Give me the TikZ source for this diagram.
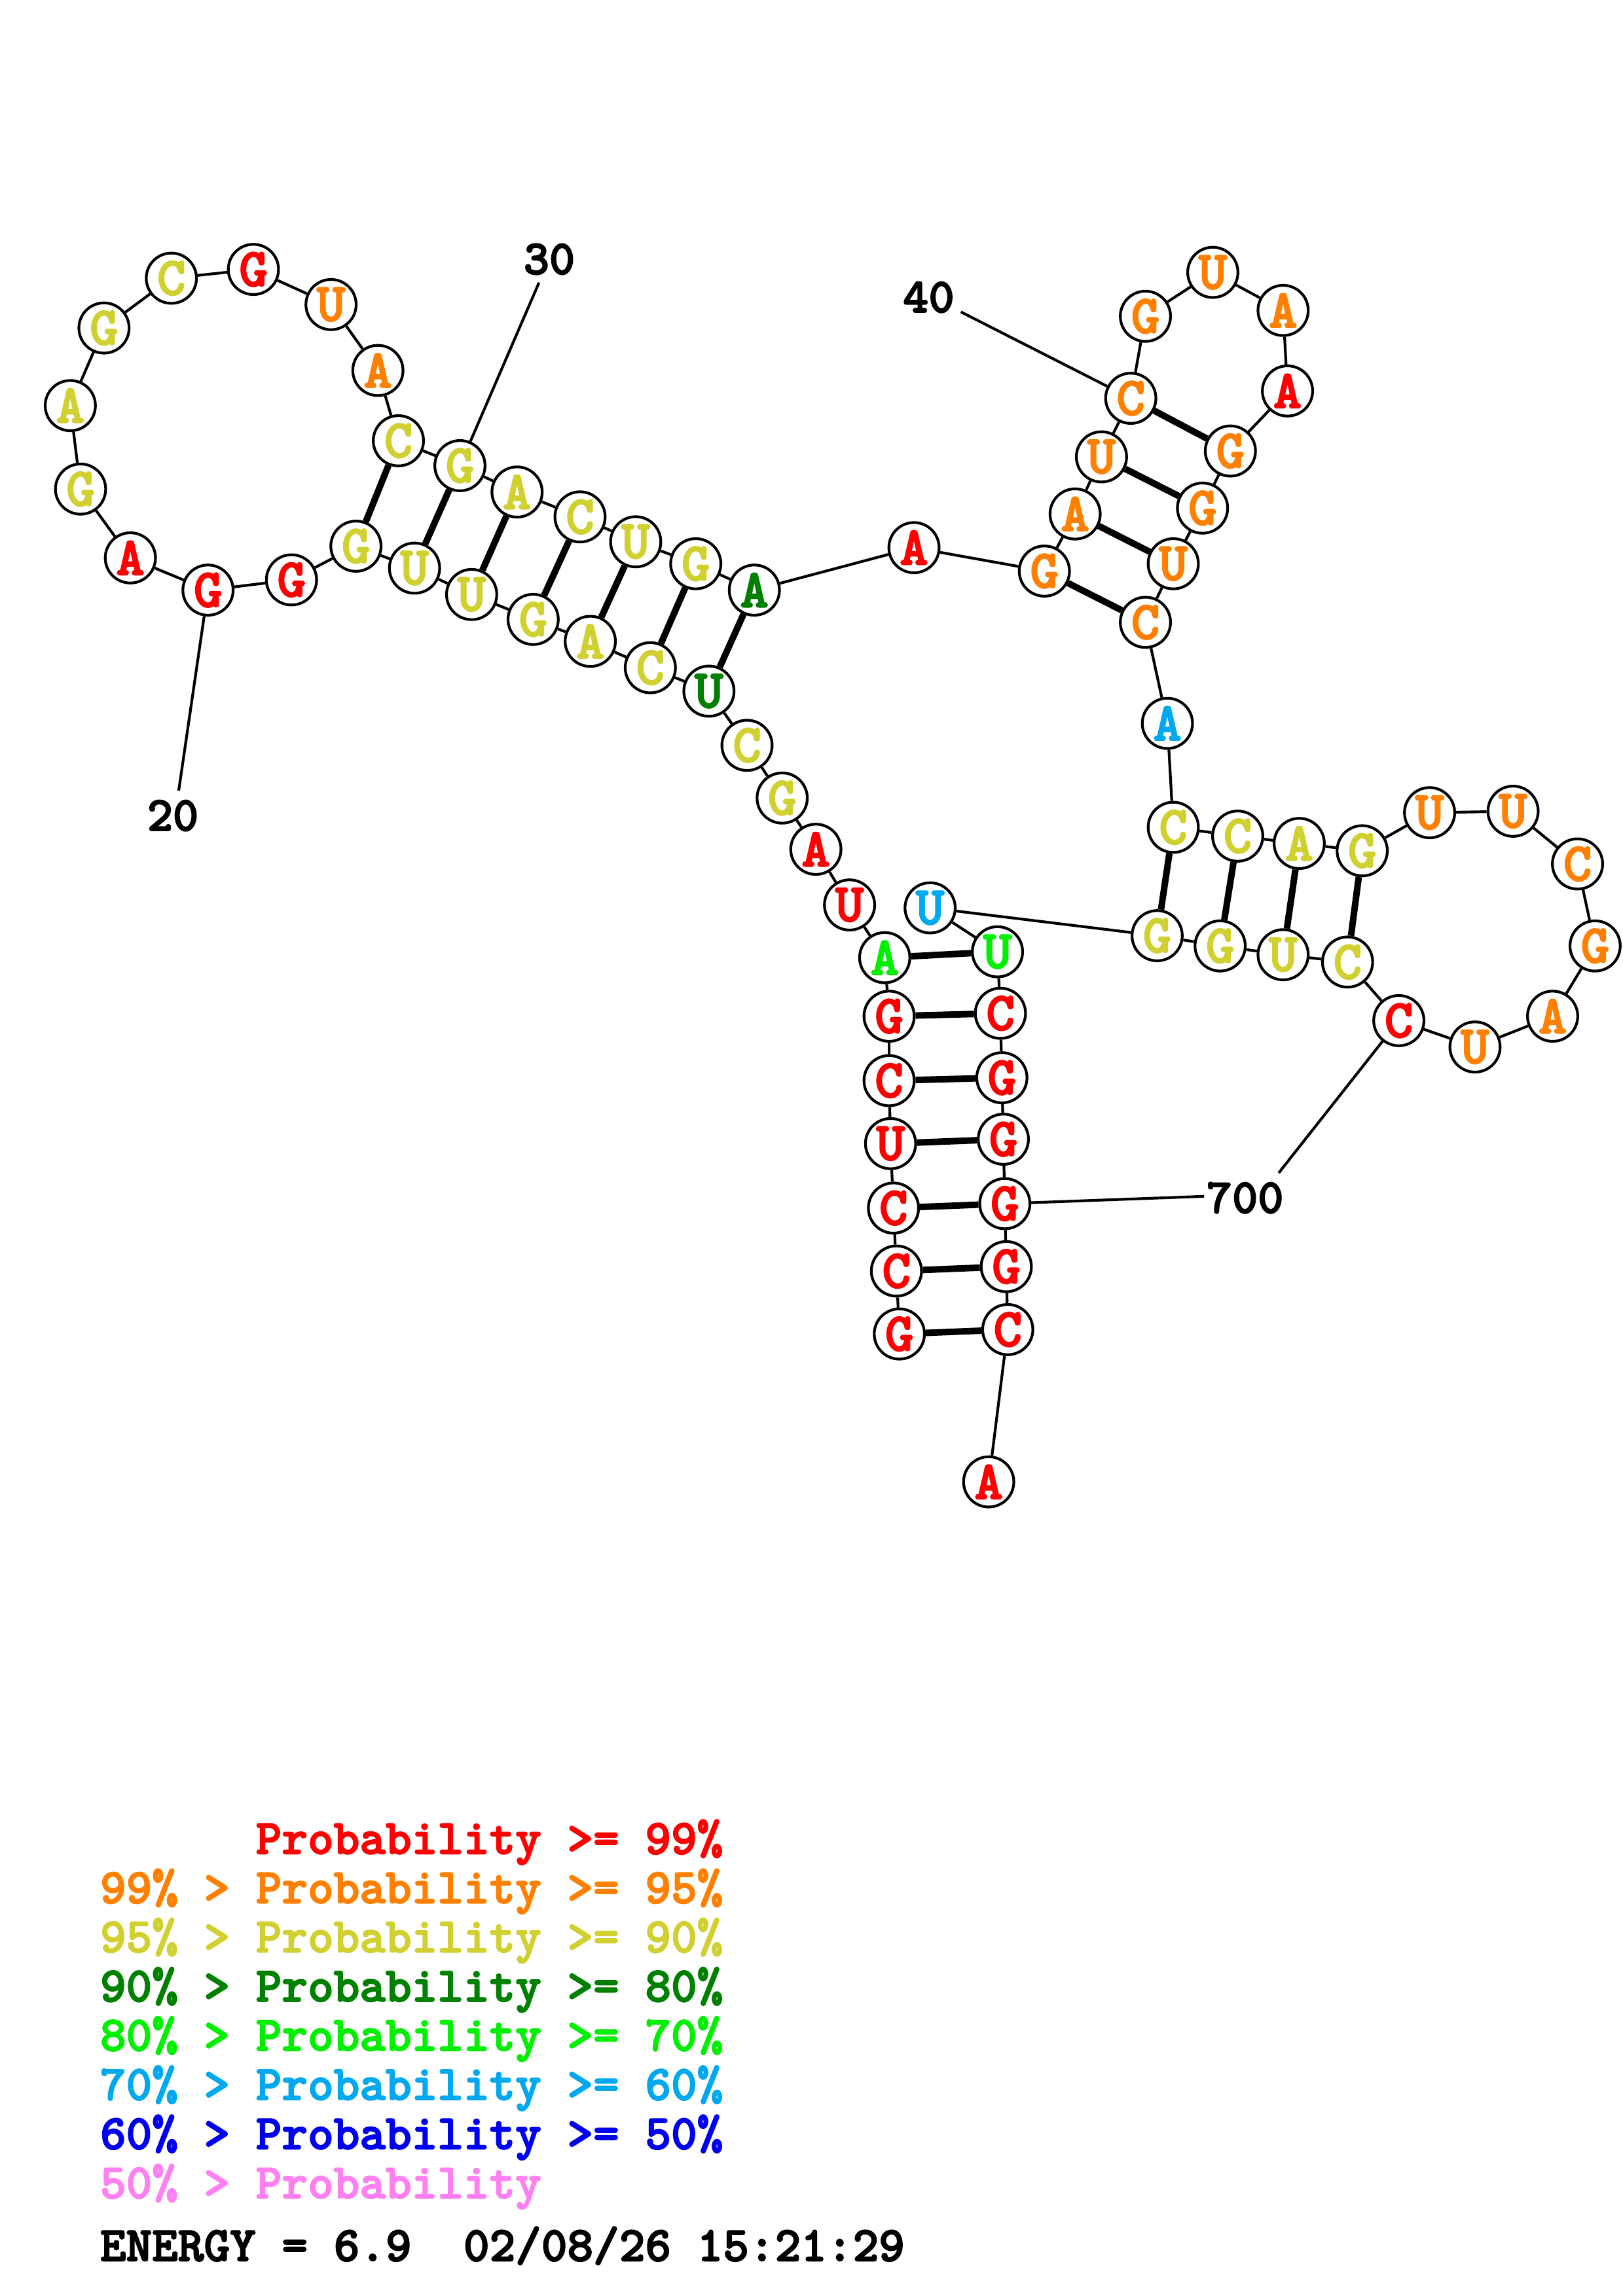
\documentclass[tikz,border=0pt]{standalone}
\usepackage{fontspec}
\usepackage{tikz}
\usetikzlibrary{positioning}

\newfontfamily\ntfont{lmmonolt10-bold}[Extension=.otf,
	BoldFont=lmmonolt10-bold, BoldFeatures={FakeBold=2.5}]

\definecolor{pred}{RGB}{255,0,0}
\definecolor{porange}{RGB}{255,128,0}
\definecolor{pyellow}{RGB}{208,208,48}
\definecolor{pdkgreen}{RGB}{0,128,0}
\definecolor{pgreen}{RGB}{0,240,0}
\definecolor{pcyan}{RGB}{0,168,240}
\definecolor{pblue}{RGB}{0,0,240}
\definecolor{ppink}{RGB}{255,128,240}

\tikzset{
	base/.style={circle,draw,line width=1pt,fill=white,minimum size=6.5mm,inner sep=0pt,
		font=\ntfont\bfseries\fontsize{20}{20}\selectfont},
	bb/.style={line width=1pt},
	pair/.style={line width=2.4pt},
	numlbl/.style={font=\ntfont\bfseries\fontsize{18}{18}\selectfont},
	legend/.style={anchor=base west,inner sep=0pt,font=\ntfont\bfseries\fontsize{18.2}{18.2}\selectfont}
}

\begin{document}
\begin{tikzpicture}[x=0.18953mm,y=-0.18953mm]
	\useasboundingbox (0,0) rectangle (1108,1568);
	% nucleotides
	\foreach \i/\x/\y/\b/\c in {
		1/614/911/G/pred, 2/612/868/C/pred, 3/610/825/C/pred, 4/608/781/U/pred,
		5/607/738/C/pred, 6/607/694/G/pred, 7/604/654/A/pgreen, 8/580/618/U/pred,
		9/557/580/A/pred, 10/534/545/G/pyellow, 11/510/509/C/pyellow, 12/484/472/U/pdkgreen,
		13/444/456/C/pyellow, 14/403/438/A/pyellow, 15/364/423/G/pyellow, 16/322/406/U/pyellow,
		17/283/388/U/pyellow, 18/243/373/G/pyellow, 19/199/396/G/pred, 20/142/403/G/pred,
		21/89/381/A/pred, 22/55/334/G/pyellow, 23/48/277/A/pyellow, 24/71/224/G/pyellow,
		25/117/190/C/pyellow, 26/173/184/G/pred, 27/226/208/U/porange, 28/258/253/A/porange,
		29/272/301/C/pyellow, 30/314/318/G/pyellow, 31/353/336/A/pyellow, 32/396/353/C/pyellow,
		33/434/370/U/pyellow, 34/475/385/G/pyellow, 35/515/403/A/pdkgreen, 36/624/374/A/pred,
		37/713/390/G/porange, 38/734/351/A/porange, 39/752/312/U/porange, 40/772/272/C/porange,
		41/782/216/G/porange, 42/828/186/U/porange, 43/876/212/A/porange, 44/879/267/A/pred,
		45/840/308/G/porange, 46/821/347/G/porange, 47/801/385/U/porange, 48/782/425/C/porange,
		49/797/494/A/pcyan, 50/801/565/C/pyellow, 51/845/571/C/pyellow, 52/887/576/A/pyellow,
		53/930/581/G/pyellow, 54/976/555/U/porange, 55/1033/554/U/porange, 56/1077/590/C/porange,
		57/1089/646/G/porange, 58/1060/694/A/porange, 59/1007/715/U/porange, 60/955/697/C/pred,
		61/920/657/C/pyellow, 62/876/652/U/pyellow, 63/833/646/G/pyellow, 64/790/639/G/pyellow,
		65/635/620/U/pcyan, 66/681/650/U/pgreen, 67/683/692/C/pred, 68/684/736/G/pred,
		69/685/778/G/pred, 70/686/822/G/pred, 71/687/865/G/pred, 72/688/908/C/pred,
		73/675/1012/A/pred}
		\node[base,text=\c] (n\i) at (\x,\y) {\b};
	% backbone
	\foreach \i [count=\j from 2] in {1,...,72}
		\draw[bb] (n\i) -- (n\j);
	% pairs
	\path[pair]
	(n1) edge (n72) (n2) edge (n71) (n3) edge (n70) (n4) edge (n69)
	(n5) edge (n68) (n6) edge (n67) (n7) edge (n66)
	(n12) edge (n35) (n13) edge (n34) (n14) edge (n33) (n15) edge (n32)
	(n16) edge (n31) (n17) edge (n30) (n18) edge (n29)
	(n37) edge (n48) (n38) edge (n47) (n39) edge (n46) (n40) edge (n45)
	(n50) edge (n64) (n51) edge (n63) (n52) edge (n62) (n53) edge (n61);
	% index labels
	\coordinate (l20) at (122,540);
	\coordinate (l30) at (368,193);
	\coordinate (l40) at (656,213);
	\coordinate (l60) at (873,801);
	\coordinate (l70) at (822,817);
	\draw[bb] (n20) -- (l20) (n30) -- (l30) (n40) -- (l40)
		(n60) -- (l60) (n70) -- (l70);
	\node[numlbl] (t20) at (118,557) {20};
	\node[numlbl] (t30) at (375,177) {30};
	\node[numlbl] (t40) at (634,203) {40};
	\node[numlbl] (t70) at (850,818) {700};
	% legend
	\node[legend,text=pred] (k1) at (68,1266) {\phantom{99\% > }Probability >= 99\%};
	\node[legend,text=porange] (k2) at (68,1299.6) {99\% > Probability >= 95\%};
	\node[legend,text=pyellow] (k3) at (68,1333.2) {95\% > Probability >= 90\%};
	\node[legend,text=pdkgreen] (k4) at (68,1366.8) {90\% > Probability >= 80\%};
	\node[legend,text=pgreen] (k5) at (68,1400.4) {80\% > Probability >= 70\%};
	\node[legend,text=pcyan] (k6) at (68,1434) {70\% > Probability >= 60\%};
	\node[legend,text=pblue] (k7) at (68,1467.6) {60\% > Probability >= 50\%};
	\node[legend,text=ppink] (k8) at (68,1501.2) {50\% > Probability};
	\node[legend] (energy) at (68,1544) {ENERGY = 6.9\ \ 02/08/26 15:21:29};
\end{tikzpicture}
\end{document}
